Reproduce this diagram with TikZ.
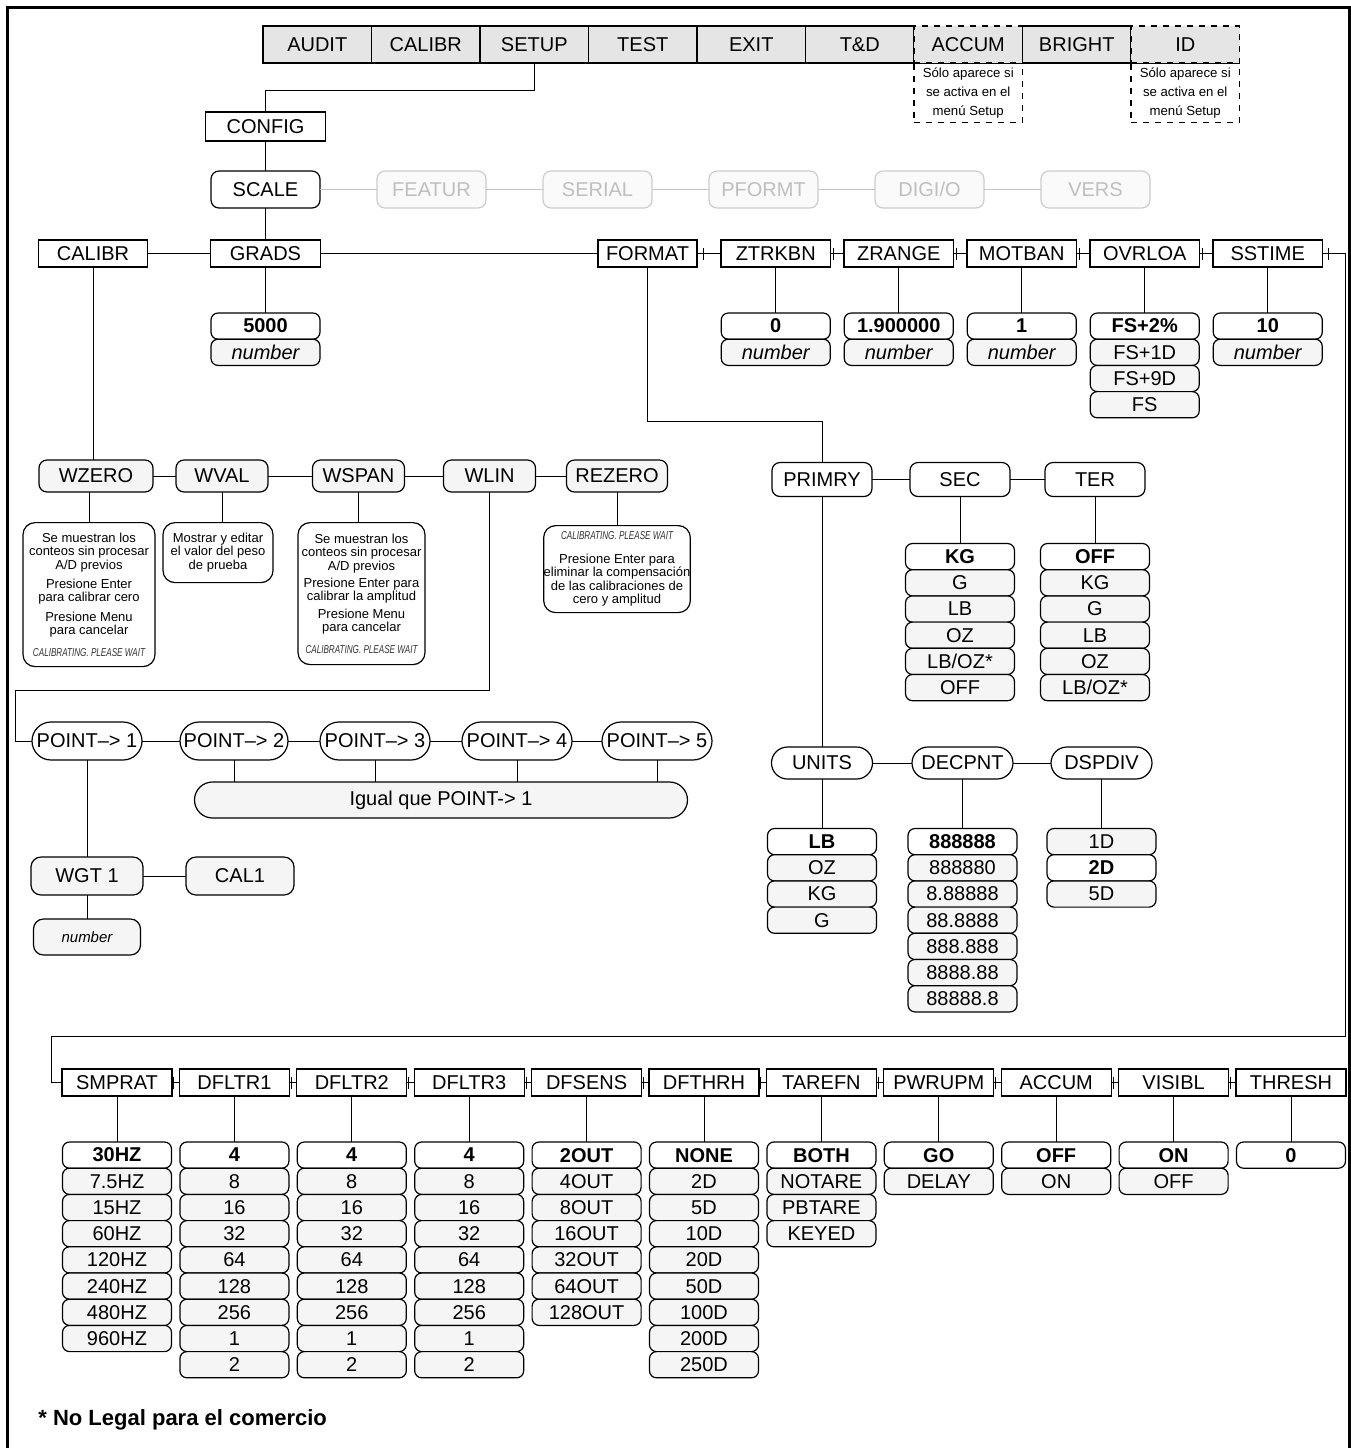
\documentclass[tikz,border=0pt]{standalone}
\usepackage{fontspec}
\setmainfont{Liberation Sans}
\usepackage{graphicx}
\usetikzlibrary{positioning,calc}

\newcommand{\lblfont}{\fontsize{10}{12}\selectfont}
\newcommand{\calwait}{\textcolor{black!80}{\resizebox{56pt}{4pt}{\itshape CALIBRATING. PLEASE WAIT}}}

\tikzset{
  lbl/.style={font=\lblfont, inner sep=0pt, outer sep=0pt, line width=0.6pt},
  topbox/.style={lbl, draw, fill=gray!20, minimum width=54.25pt, minimum height=18.5pt},
  note/.style={draw, dashed, line width=0.6pt, minimum width=54.25pt, minimum height=29.5pt,
    inner sep=0pt, align=center, font=\fontsize{6.6}{9.5}\selectfont},
  menubox/.style={lbl, draw, fill=white, minimum width=54.75pt, minimum height=13.5pt},
  subbox/.style={lbl, draw, fill=white, rounded corners=4pt, minimum height=17pt},
  offbox/.style={subbox, draw=gray!40, fill=gray!4, text=gray!50},
  stepbox/.style={lbl, draw, fill=gray!8, rounded corners=4pt, minimum height=16pt},
  pill/.style={lbl, draw, fill=white, rounded corners=8pt, minimum height=16pt},
  valbox/.style={lbl, draw, fill=gray!8, rounded corners=3.5pt, minimum width=54.5pt, minimum height=13.1pt},
  defval/.style={valbox, fill=white, font=\lblfont\bfseries},
  desc/.style={draw, fill=white, rounded corners=6pt, line width=0.6pt, inner sep=0pt, anchor=north,
    align=center, font=\fontsize{6.5}{6.7}\selectfont},
  link/.style={line width=0.5pt},
}

% box to box, with the small tick after the first box
\newcommand{\tlink}[2]{%
  \draw[link] (#1.east) -- (#2.west);
  \draw[link] ($(#1.east)!0.25!(#2.west)$) ++(0,-6) -- ++(0,12);
}

% list of values under a menu item: parent, gap, default, items
\newcommand{\valstack}[4]{%
  \foreach \v [count=\i] in {#4}{%
    \pgfmathtruncatemacro\j{\i-1}%
    \ifnum\i=1\relax \edef\prevnode{#1}\def\vgap{#2}\else \edef\prevnode{#1-\j}\def\vgap{0pt}\fi
    \ifnum\i=#3\relax \tikzset{vlook/.style={defval}}\else \tikzset{vlook/.style={valbox}}\fi
    \node[vlook, anchor=north] (#1-\i) at ([yshift=-\vgap]\prevnode.south) {\v};
  }%
  \draw[link] (#1) -- (#1-1);
}

\begin{document}
\begin{tikzpicture}[x=0.5pt,y=-0.5pt]
  \useasboundingbox (0,0) rectangle (1351,1448);
  \draw[line width=1.5pt] (7,1448) -- (7,7) -- (1349,7) -- (1349,1448);

  % main menu
  \node[topbox] (audit) at (317.25,44.5) {AUDIT};
  \node[topbox, right=0pt of audit] (calibr) {CALIBR};
  \node[topbox, right=0pt of calibr] (setup) {SETUP};
  \node[topbox, right=0pt of setup] (test) {TEST};
  \node[topbox, right=0pt of test] (exit) {EXIT};
  \node[topbox, right=0pt of exit] (td) {T\&D};
  \node[topbox, dashed, right=0pt of td] (accum) {ACCUM};
  \node[topbox, right=0pt of accum] (bright) {BRIGHT};
  \node[topbox, dashed, right=0pt of bright] (id) {ID};
  \node[note, below=0pt of accum] (accumnote) {Sólo aparece si\\se activa en el\\menú Setup};
  \node[note, below=0pt of id] (idnote) {Sólo aparece si\\se activa en el\\menú Setup};

  \node[menubox, minimum width=60pt, minimum height=14.5pt] (config) at (265.5,126.5) {CONFIG};
  \draw[link] (setup.south) -- ++(0,27) -| (config.north);

  % setup menus
  \node[subbox, minimum width=54.5pt, minimum height=18.5pt] (scale) at (265.5,189.5) {SCALE};
  \node[offbox, minimum width=54.5pt, minimum height=18.5pt, right=28.5pt of scale] (featur) {FEATUR};
  \node[offbox, minimum width=54.5pt, minimum height=18.5pt, right=28.5pt of featur] (serial) {SERIAL};
  \node[offbox, minimum width=54.5pt, minimum height=18.5pt, right=28.5pt of serial] (pformt) {PFORMT};
  \node[offbox, minimum width=54.5pt, minimum height=18.5pt, right=28.5pt of pformt] (digio) {DIGI/O};
  \node[offbox, minimum width=54.5pt, minimum height=18.5pt, right=28.5pt of digio] (vers) {VERS};
  \draw[link] (config) -- (scale);
  \draw[link, gray!45] (scale) -- (featur) -- (serial) -- (pformt) -- (digio) -- (vers);

  % scale submenu
  \node[menubox] (calibr1) at (93,253.5) {CALIBR};
  \node[menubox] (grads) at (265.5,253.5) {GRADS};
  \node[menubox, minimum width=49.5pt] (format) at (647.5,253.5) {FORMAT};
  \node[menubox, right=12pt of format] (ztrkbn) {ZTRKBN};
  \node[menubox, right=6.75pt of ztrkbn] (zrange) {ZRANGE};
  \node[menubox, right=6.75pt of zrange] (motban) {MOTBAN};
  \node[menubox, right=6.75pt of motban] (ovrloa) {OVRLOA};
  \node[menubox, right=6.75pt of ovrloa] (sstime) {SSTIME};
  \draw[link] (scale) -- (grads);
  \draw[link] (calibr1) -- (grads) -- (format);
  \tlink{format}{ztrkbn}
  \tlink{ztrkbn}{zrange}
  \tlink{zrange}{motban}
  \tlink{motban}{ovrloa}
  \tlink{ovrloa}{sstime}

  \valstack{grads}{23pt}{1}{5000,{\itshape number}}
  \valstack{ztrkbn}{23pt}{1}{0,{\itshape number}}
  \valstack{zrange}{23pt}{1}{1.900000,{\itshape number}}
  \valstack{motban}{23pt}{1}{1,{\itshape number}}
  \valstack{ovrloa}{23pt}{1}{FS+2\%,FS+1D,FS+9D,FS}
  \valstack{sstime}{23pt}{1}{10,{\itshape number}}

  % format
  \coordinate (fbend) at (822,421);
  \node[subbox, minimum width=50pt] (primry) at (822,479.5) {PRIMRY};
  \node[subbox, minimum width=50pt] (sec) at (960,479.5) {SEC};
  \node[subbox, minimum width=50pt] (ter) at (1095,479.5) {TER};
  \draw[link] (format.south) |- (fbend) -- (primry.north);
  \draw[link] (primry) -- (sec) -- (ter);
  \valstack{sec}{23.5pt}{1}{KG,G,LB,OZ,LB/OZ*,OFF}
  \valstack{ter}{23.5pt}{1}{OFF,KG,G,LB,OZ,LB/OZ*}

  \node[pill, minimum width=50.5pt] (units) at (822,763) {UNITS};
  \node[pill, minimum width=50.5pt] (decpnt) at (962.5,763) {DECPNT};
  \node[pill, minimum width=50.5pt] (dspdiv) at (1101.5,763) {DSPDIV};
  \draw[link] (primry) -- (units);
  \draw[link] (units) -- (decpnt) -- (dspdiv);
  \valstack{units}{24.75pt}{1}{LB,OZ,KG,G}
  \valstack{decpnt}{24.75pt}{1}{888888,888880,8.88888,88.8888,888.888,8888.88,88888.8}
  \valstack{dspdiv}{24.75pt}{2}{1D,2D,5D}

  % calibration
  \node[stepbox, minimum width=57pt] (wzero) at (96,476) {WZERO};
  \node[stepbox, minimum width=46pt] (wval) at (222,476) {WVAL};
  \node[stepbox, minimum width=46pt] (wspan) at (358.5,476) {WSPAN};
  \node[stepbox, minimum width=46pt] (wlin) at (489.5,476) {WLIN};
  \node[stepbox, minimum width=50.5pt] (rezero) at (617,476) {REZERO};
  \draw[link] (calibr1.south) -- (calibr1.south |- wzero.north);
  \draw[link] (wzero) -- (wval) -- (wspan) -- (wlin) -- (rezero);

  \node[desc, minimum width=66pt, minimum height=72pt] (wzdesc) at (89,522)
    {Se muestran los\\conteos sin procesar\\A/D previos\\[3pt]Presione Enter\\para calibrar cero\\[3pt]Presione Menu\\para cancelar\\[4pt]\calwait};
  \node[desc, minimum width=55pt, minimum height=30pt] (wvdesc) at (218,522)
    {Mostrar y editar\\el valor del peso\\de prueba};
  \node[desc, minimum width=63.5pt, minimum height=71pt] (wsdesc) at (361.5,522)
    {Se muestran los\\conteos sin procesar\\A/D previos\\[2pt]Presione Enter para\\calibrar la amplitud\\[2pt]Presione Menu\\para cancelar\\[4pt]\calwait};
  \node[desc, minimum width=64pt, minimum height=43.5pt] (rzdesc) at (617,525)
    {\calwait\\[5pt]Presione Enter para\\eliminar la compensación\\de las calibraciones de\\cero y amplitud};
  \draw[link] (wzdesc.north |- wzero.south) -- (wzdesc.north);
  \draw[link] (wval.south) -- (wval.south |- wvdesc.north);
  \draw[link] (wspan.south) -- (wspan.south |- wsdesc.north);
  \draw[link] (rezero.south) -- (rezero.south |- rzdesc.north);

  % linearization
  \coordinate (wbend) at (15,690);
  \node[pill, rounded corners=9.5pt, minimum width=55pt, minimum height=19pt] (p1) at (87,741) {POINT\textendash> 1};
  \node[pill, rounded corners=9.5pt, minimum width=54pt, minimum height=19pt] (p2) at (234,741) {POINT\textendash> 2};
  \node[pill, rounded corners=9.5pt, minimum width=55pt, minimum height=19pt] (p3) at (375,741) {POINT\textendash> 3};
  \node[pill, rounded corners=9.5pt, minimum width=55pt, minimum height=19pt] (p4) at (517,741) {POINT\textendash> 4};
  \node[pill, rounded corners=9.5pt, minimum width=55pt, minimum height=19pt] (p5) at (657,741) {POINT\textendash> 5};
  \draw[link] (wlin.south) |- (wbend) |- (p1.west);
  \draw[link] (p1) -- (p2) -- (p3) -- (p4) -- (p5);
  \node[stepbox, rounded corners=9pt, minimum width=246.5pt, minimum height=18pt] (same) at (441,800) {Igual que POINT-> 1};
  \foreach \p in {p2,p3,p4,p5}
    \draw[link] (\p.south) -- (\p.south |- same.north);

  \node[stepbox, rounded corners=5pt, minimum width=56pt, minimum height=19pt] (wgt) at (87,876) {WGT 1};
  \node[stepbox, rounded corners=5pt, minimum width=54pt, minimum height=19pt] (cal1) at (240,876) {CAL1};
  \node[stepbox, rounded corners=5pt, minimum width=53.5pt, minimum height=18pt,
    font=\fontsize{7.5}{9}\selectfont\itshape] (wgtnum) at (87,937) {number};
  \draw[link] (p1) -- (wgt);
  \draw[link] (wgt) -- (cal1);
  \draw[link] (wgt) -- (wgtnum);

  % second row of scale parameters
  \coordinate (rturn) at (1345,1036);
  \coordinate (lturn) at (51,1036);
  \node[menubox, minimum width=55pt] (smprat) at (117,1082.5) {SMPRAT};
  \node[menubox, minimum width=55pt, right=3.7pt of smprat] (dfltr1) {DFLTR1};
  \node[menubox, minimum width=55pt, right=3.7pt of dfltr1] (dfltr2) {DFLTR2};
  \node[menubox, minimum width=55pt, right=3.7pt of dfltr2] (dfltr3) {DFLTR3};
  \node[menubox, minimum width=55pt, right=3.7pt of dfltr3] (dfsens) {DFSENS};
  \node[menubox, minimum width=55pt, right=3.7pt of dfsens] (dfthrh) {DFTHRH};
  \node[menubox, minimum width=55pt, right=3.7pt of dfthrh] (tarefn) {TAREFN};
  \node[menubox, minimum width=55pt, right=3.7pt of tarefn] (pwrupm) {PWRUPM};
  \node[menubox, minimum width=55pt, right=3.7pt of pwrupm] (accum2) {ACCUM};
  \node[menubox, minimum width=55pt, right=3.7pt of accum2] (visibl) {VISIBL};
  \node[menubox, minimum width=55pt, right=3.7pt of visibl] (thresh) {THRESH};
  \draw[link] (sstime.east) -| (rturn) -- (lturn) |- (smprat.west);
  \draw[link] ([xshift=3pt,yshift=3pt]sstime.east) -- ([xshift=3pt,yshift=-3pt]sstime.east);
  \tlink{smprat}{dfltr1}
  \tlink{dfltr1}{dfltr2}
  \tlink{dfltr2}{dfltr3}
  \tlink{dfltr3}{dfsens}
  \tlink{dfsens}{dfthrh}
  \tlink{dfthrh}{tarefn}
  \tlink{tarefn}{pwrupm}
  \tlink{pwrupm}{accum2}
  \tlink{accum2}{visibl}
  \tlink{visibl}{thresh}

  \valstack{smprat}{23pt}{1}{30HZ,7.5HZ,15HZ,60HZ,120HZ,240HZ,480HZ,960HZ}
  \valstack{dfltr1}{23pt}{1}{4,8,16,32,64,128,256,1,2}
  \valstack{dfltr2}{23pt}{1}{4,8,16,32,64,128,256,1,2}
  \valstack{dfltr3}{23pt}{1}{4,8,16,32,64,128,256,1,2}
  \valstack{dfsens}{23pt}{1}{2OUT,4OUT,8OUT,16OUT,32OUT,64OUT,128OUT}
  \valstack{dfthrh}{23pt}{1}{NONE,2D,5D,10D,20D,50D,100D,200D,250D}
  \valstack{tarefn}{23pt}{1}{BOTH,NOTARE,PBTARE,KEYED}
  \valstack{pwrupm}{23pt}{1}{GO,DELAY}
  \valstack{accum2}{23pt}{1}{OFF,ON}
  \valstack{visibl}{23pt}{1}{ON,OFF}
  \valstack{thresh}{23pt}{1}{0}

  \node[anchor=west, inner sep=0pt, font=\fontsize{11}{13}\selectfont\bfseries] (legal) at (38,1420) {* No Legal para el comercio};
\end{tikzpicture}
\end{document}
